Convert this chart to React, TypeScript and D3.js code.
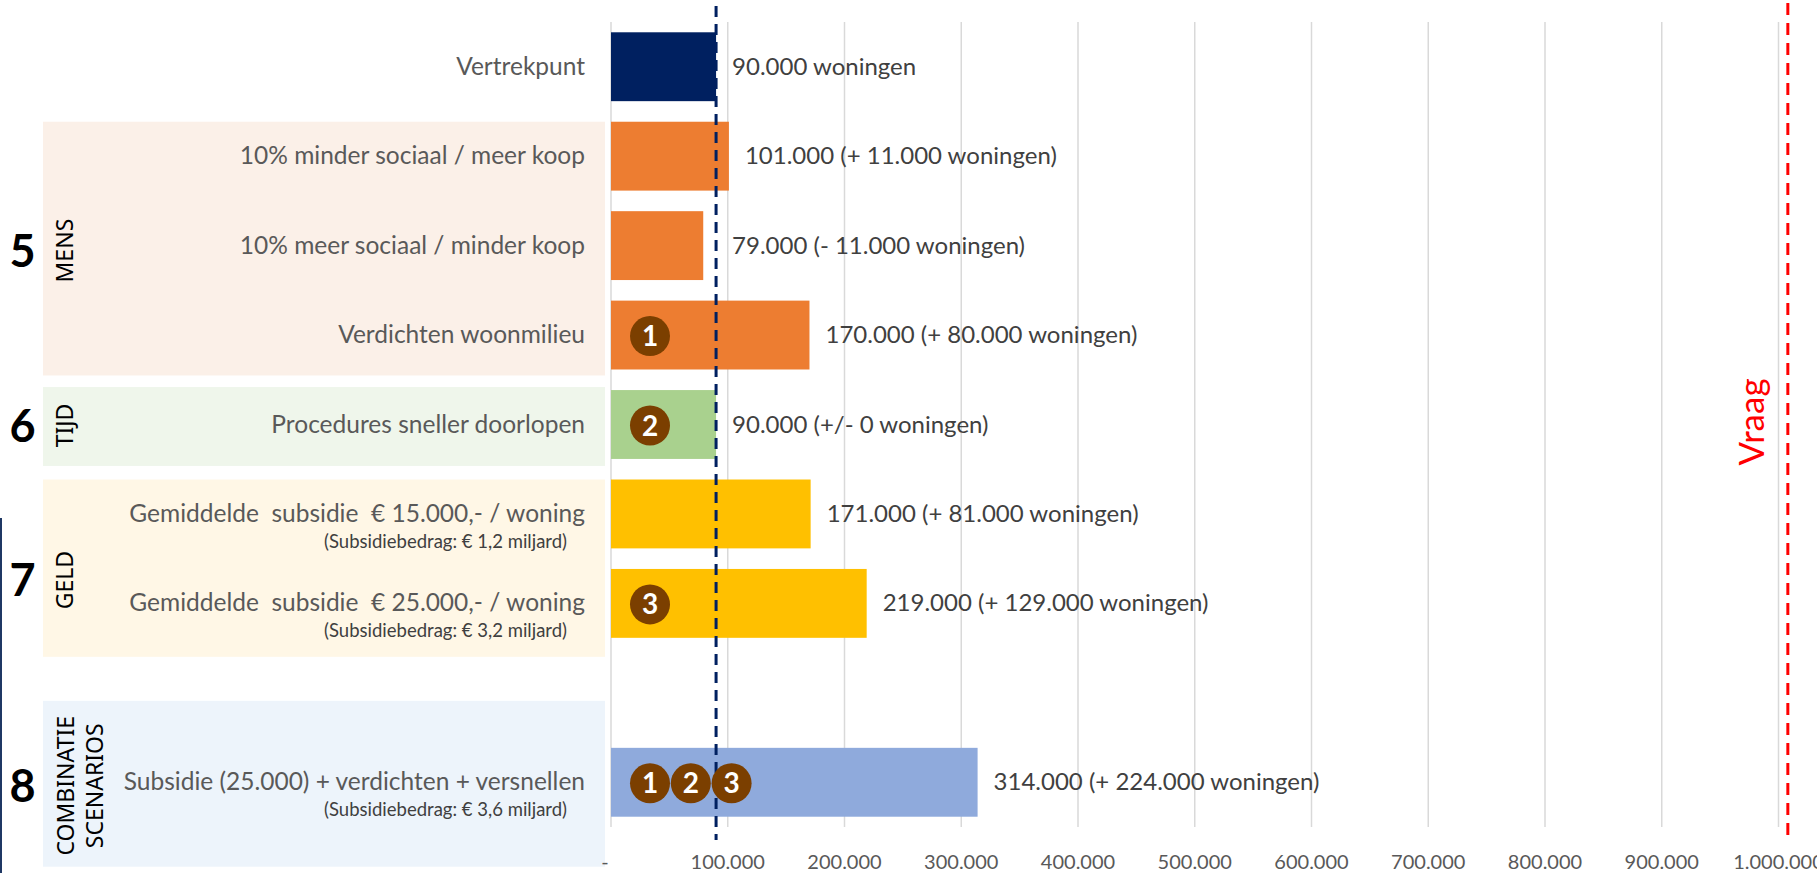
import React from 'react';
import * as d3 from 'd3';

// ---------- data ----------
const categories = [
  'Vertrekpunt',
  '10% minder sociaal / meer koop',
  '10% meer sociaal / minder koop',
  'Verdichten woonmilieu',
  'Procedures sneller doorlopen',
  'Gemiddelde  subsidie  € 15.000,- / woning',
  'Gemiddelde  subsidie  € 25.000,- / woning',
  '',
  'Subsidie (25.000) + verdichten + versnellen',
];
const subLabels = [null, null, null, null, null,
  '(Subsidiebedrag: € 1,2 miljard)', '(Subsidiebedrag: € 3,2 miljard)', null,
  '(Subsidiebedrag: € 3,6 miljard)'];
const values = [90000, 101000, 79000, 170000, 90000, 171000, 219000, null, 314000];
const valueLabels = [
  '90.000 woningen',
  '101.000 (+ 11.000 woningen)',
  '79.000 (- 11.000 woningen)',
  '170.000 (+ 80.000 woningen)',
  '90.000 (+/- 0 woningen)',
  '171.000 (+ 81.000 woningen)',
  '219.000 (+ 129.000 woningen)',
  null,
  '314.000 (+ 224.000 woningen)',
];
const barColors = ['#002060', '#ED7D31', '#ED7D31', '#ED7D31', '#A9D18E', '#FFC000', '#FFC000', null, '#8FAADC'];
const badges = [[], [], [], ['1'], ['2'], [], ['3'], [], ['1', '2', '3']];

const groupNumbers = ['5', '6', '7', '8'];
const groupNames = [['MENS'], ['TIJD'], ['GELD'], ['COMBINATIE', 'SCENARIOS']];
const groupRows = [[1, 3], [4, 4], [5, 6], [8, 8]];
const groupFills = ['#FBF0E8', '#EFF6EB', '#FFF7E6', '#EDF4FB'];

const baseline = 90000;
const demand = 1008000;
const demandLabel = 'Vraag';
const xTicks = [0, 100000, 200000, 300000, 400000, 500000, 600000, 700000, 800000, 900000, 1000000];

// ---------- layout ----------
const W = 1817, H = 873;
const panelPad = [[0, 6], [-3, 7], [0, 19], [-47, 50]];
const labelDy = [2, -1, 12, 2];
const FONT = 'Lato, "Noto Sans", sans-serif';
const GFONT = '"Noto Sans", "Open Sans", sans-serif';

const nl = d3.formatLocale({ decimal: ',', thousands: '.', grouping: [3], currency: ['€', ''] });
const fmt = nl.format(',');

export default function App() {
  const x = d3.scaleLinear().domain([0, 1000000]).range([611, 1778.5]);
  const y = d3.scaleBand<string>().domain(categories).range([22, 827]).paddingInner(0.23).paddingOuter(0.115);
  const bw = y.bandwidth();
  const cy = (i: number) => (y(categories[i]) as number) + bw / 2;

  return (
    <svg width={W} height={H} style={{ position: 'absolute', left: 0, top: 0, background: '#fff' }}
      xmlns="http://www.w3.org/2000/svg">
      <rect x={0} y={0} width={W} height={H} fill="#fff" />
      {/* left edge line */}
      <rect x={0} y={518} width={2} height={H - 518} fill="#1F3864" />

      {/* group panels */}
      {groupRows.map((rows, g) => {
        const top = (y(categories[rows[0]]) as number) + panelPad[g][0];
        const bot = (y(categories[rows[1]]) as number) + bw + panelPad[g][1];
        const mid = (top + bot) / 2 + labelDy[g];
        const names = groupNames[g];
        return (
          <g key={'grp' + g}>
            <rect x={43} y={top} width={562} height={bot - top} fill={groupFills[g]} />
            <text x={22.5} y={mid + 16} textAnchor="middle" fontFamily={FONT} fontWeight={700}
              fontSize={45} fill="#000">{groupNumbers[g]}</text>
            {names.map((nm, k) => {
              const bx = names.length === 1 ? 72.5 : 74 + k * 29;
              return (
                <text key={nm} transform={`translate(${bx},${mid}) rotate(-90)`} textAnchor="middle"
                  fontFamily={GFONT} fontSize={23} fill="#000">{nm}</text>
              );
            })}
          </g>
        );
      })}

      {/* gridlines */}
      {xTicks.map((t) => (
        <line key={'gl' + t} x1={x(t)} x2={x(t)} y1={22} y2={827} stroke="#D9D9D9" strokeWidth={1.5} />
      ))}

      {/* tick labels */}
      {xTicks.map((t) => (
        <text key={'tl' + t} x={t === 0 ? x(t) - 6 : x(t)} y={869} textAnchor="middle" fontFamily={FONT}
          fontSize={20} fill="#595959">{t === 0 ? '-' : fmt(t)}</text>
      ))}

      {/* bars */}
      {categories.map((c, i) => values[i] == null ? null : (
        <rect key={'bar' + i} x={x(0)} y={y(c) as number} width={x(values[i] as number) - x(0)} height={bw}
          fill={barColors[i] as string} />
      ))}

      {/* category labels */}
      {categories.map((c, i) => c === '' ? null : (
        <g key={'cl' + i}>
          <text x={585} y={cy(i) + 8} textAnchor="end" fontFamily={FONT} fontSize={24.5} fill="#595959"
            style={{ whiteSpace: 'pre' }}>{c}</text>
          {subLabels[i] && (
            <text x={567} y={cy(i) + 34} textAnchor="end" fontFamily={FONT} fontSize={18.5} fill="#404040"
              style={{ whiteSpace: 'pre' }}>{subLabels[i]}</text>
          )}
        </g>
      ))}

      {/* value labels */}
      {categories.map((c, i) => values[i] == null ? null : (
        <text key={'vl' + i} x={x(Math.max(values[i] as number, baseline)) + 16} y={cy(i) + 8}
          fontFamily={FONT} fontSize={24} fill="#404040" style={{ whiteSpace: 'pre' }}>{valueLabels[i]}</text>
      ))}

      {/* baseline dashed line */}
      <line x1={x(baseline)} x2={x(baseline)} y1={6} y2={840} stroke="#002060" strokeWidth={3}
        strokeDasharray="11 7" />

      {/* badges */}
      {badges.map((bs, i) => bs.map((b, k) => {
        const bx = x(0) + 39 + k * 40.8;
        const by = cy(i) + 1;
        return (
          <g key={'b' + i + '-' + k}>
            <circle cx={bx} cy={by} r={20} fill="#7B3F00" />
            <text x={bx} y={by + 10} textAnchor="middle" fontFamily={FONT} fontWeight={700} fontSize={28}
              fill="#fff">{b}</text>
          </g>
        );
      }))}

      {/* demand line */}
      <line x1={x(demand)} x2={x(demand)} y1={3} y2={840} stroke="#FF0000" strokeWidth={3}
        strokeDasharray="12 8" />
      <text transform={`translate(1764,422) rotate(-90)`} textAnchor="middle" fontFamily={FONT}
        fontSize={35} fill="#FF0000">{demandLabel}</text>
    </svg>
  );
}
